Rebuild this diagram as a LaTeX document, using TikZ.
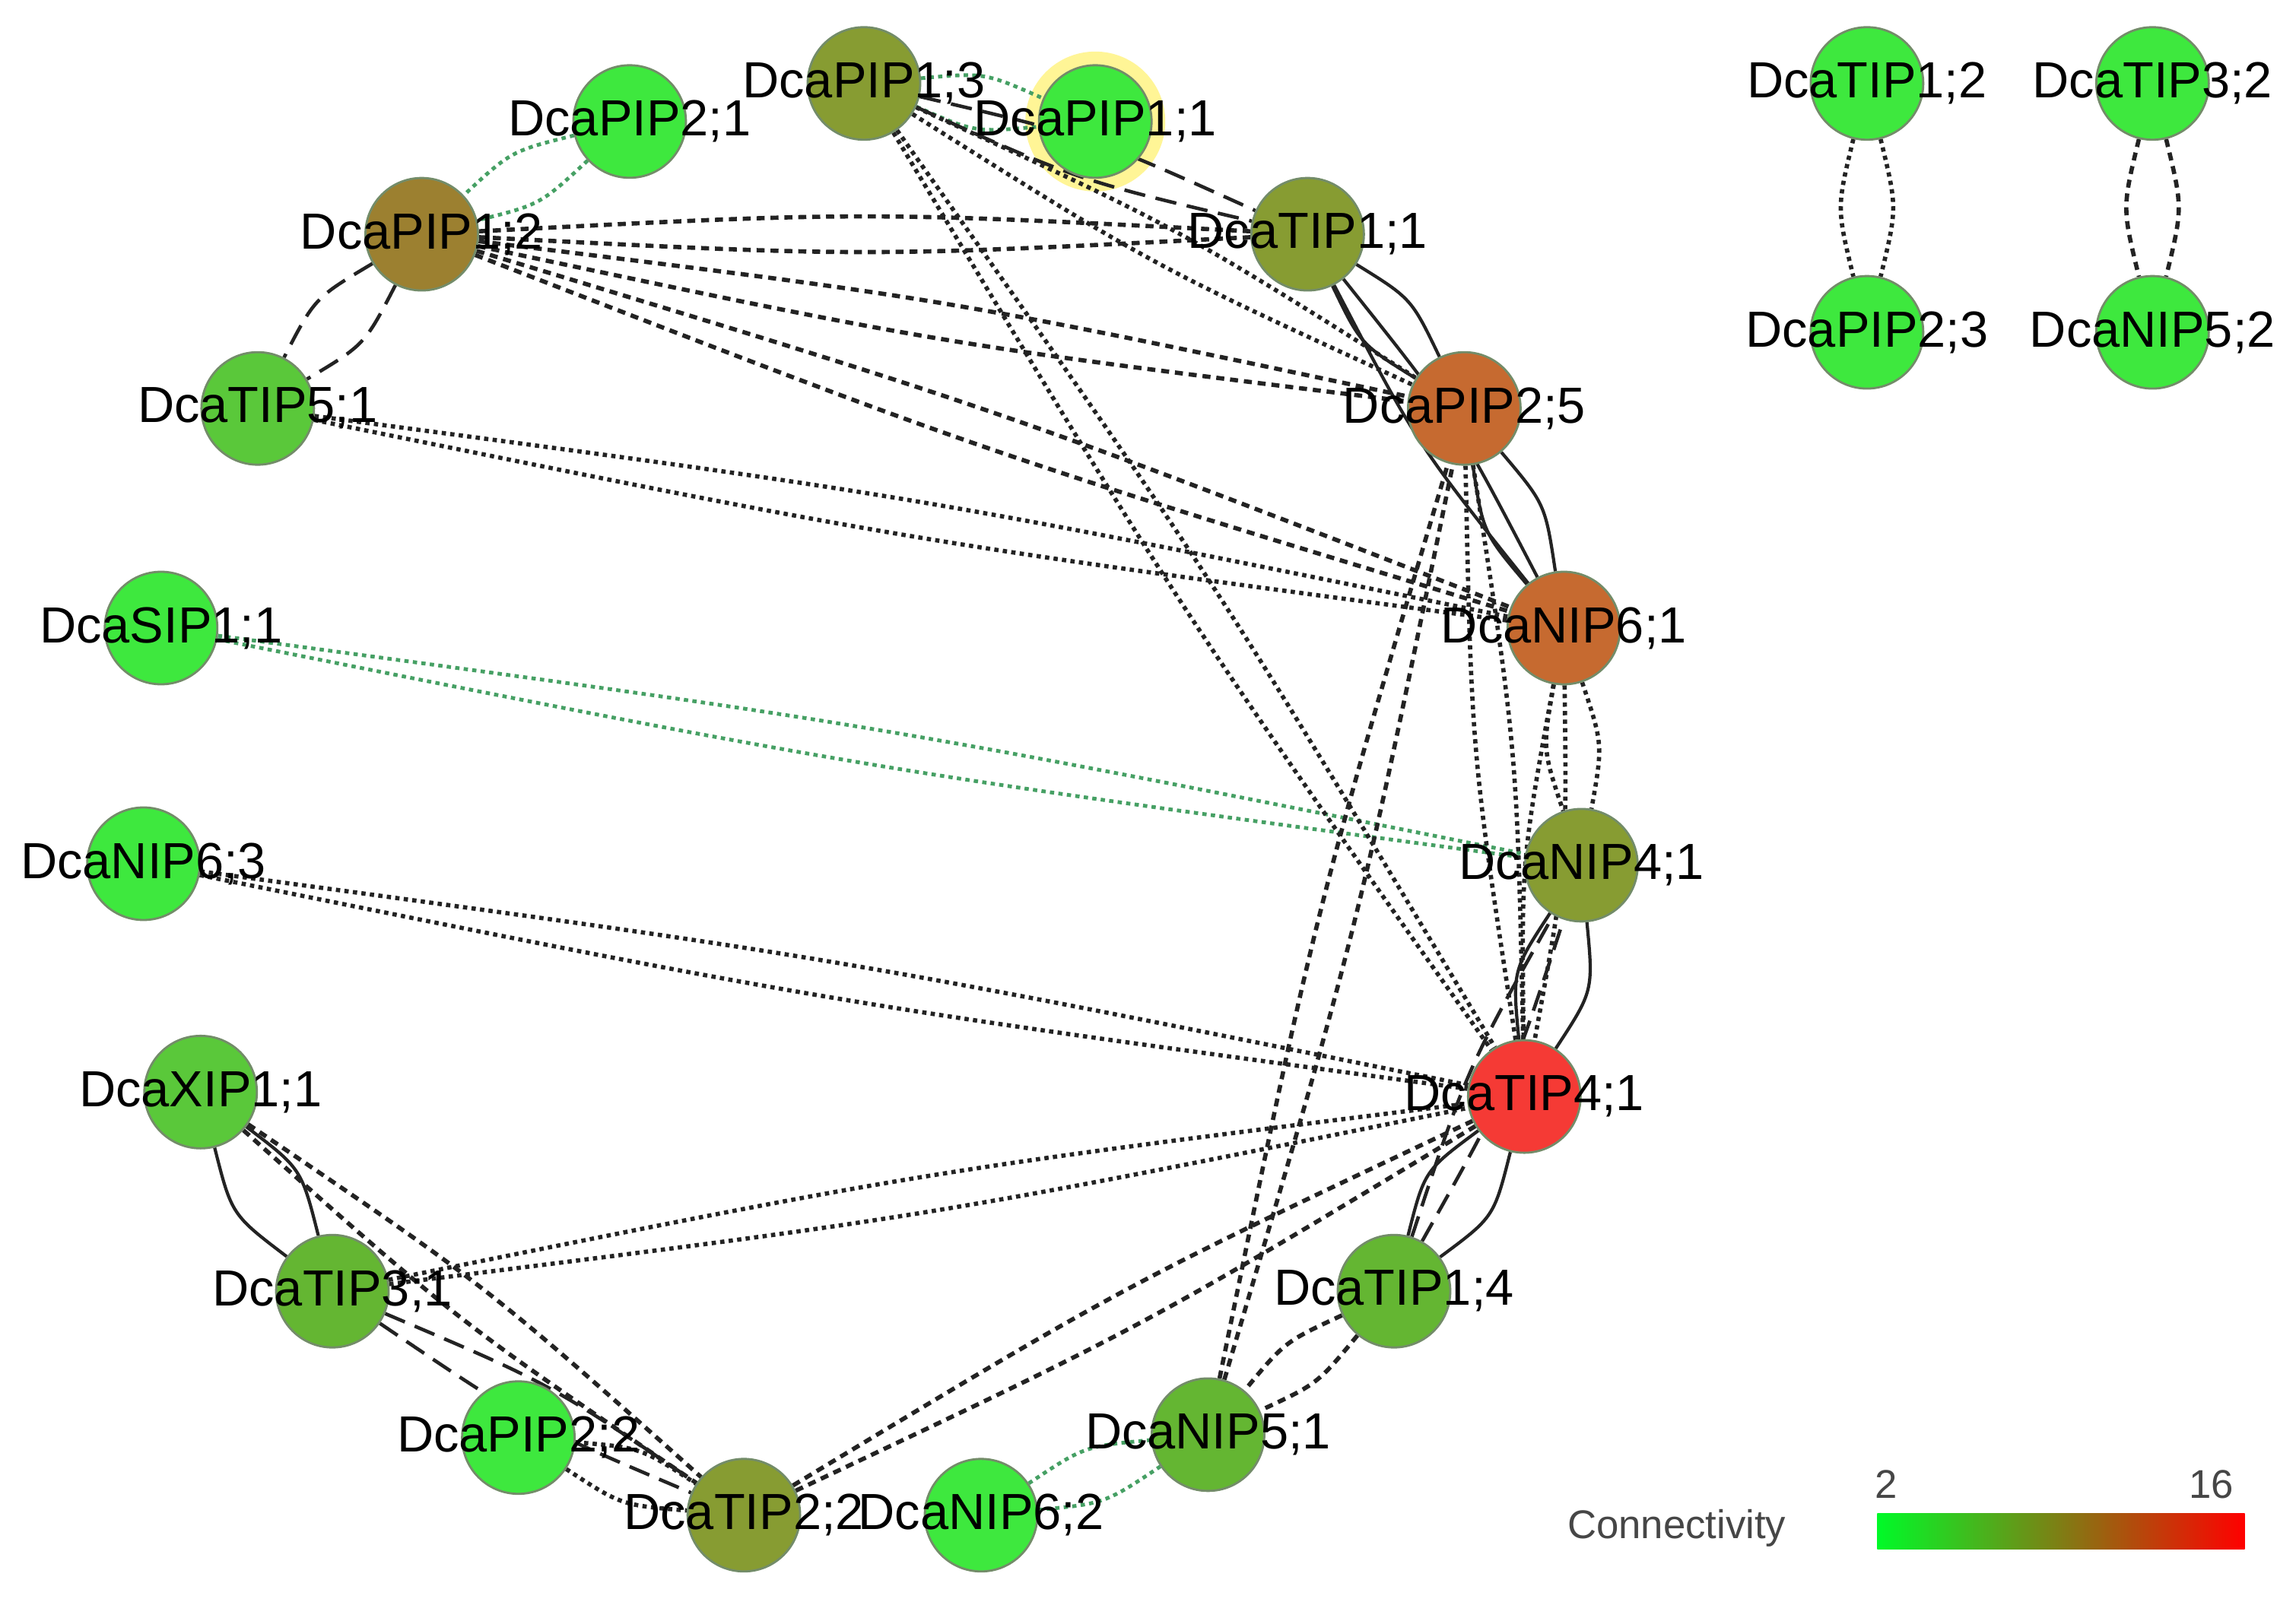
\documentclass[tikz,border=0pt]{standalone}
\usepackage{fontspec}
\setmainfont{Liberation Sans}
\usetikzlibrary{calc}
\pgfdeclarelayer{halo}
\pgfdeclarelayer{edges}
\pgfdeclarelayer{labels}
\pgfsetlayers{halo,edges,main,labels}
\definecolor{cA}{RGB}{62,232,62}
\definecolor{cB}{RGB}{90,200,58}
\definecolor{cC}{RGB}{100,182,50}
\definecolor{cD}{RGB}{135,156,50}
\definecolor{cE}{RGB}{156,128,48}
\definecolor{cF}{RGB}{198,106,48}
\definecolor{cG}{RGB}{245,58,53}
\definecolor{edgec}{RGB}{35,35,35}
\definecolor{gedge}{RGB}{70,160,100}
\definecolor{rimc}{RGB}{115,140,105}
\definecolor{haloc}{RGB}{255,245,150}
\definecolor{legtc}{RGB}{70,70,70}
\definecolor{barL}{RGB}{0,250,40}
\definecolor{barM}{RGB}{125,130,20}
\definecolor{barR}{RGB}{255,0,0}
\tikzset{
  nd/.style={circle, minimum size=1.48cm, inner sep=0pt, draw=rimc, line width=0.8pt},
  lbl/.style={font=\fontsize{19}{19}\selectfont, text=black, inner sep=0pt},
  solidE/.style={draw=edgec, line width=1.2pt},
  ldashE/.style={draw=edgec, line width=1.3pt, dash pattern=on 8pt off 4pt},
  sdashE/.style={draw=edgec, line width=1.6pt, dash pattern=on 3pt off 2.2pt},
  dotE/.style={draw=edgec, line width=1.6pt, dash pattern=on 1.6pt off 1.6pt},
  gdotE/.style={draw=gedge, line width=1.4pt, dash pattern=on 1.6pt off 1.6pt},
  legtxt/.style={font=\fontsize{15}{15}\selectfont, text=legtc, inner sep=0pt}
}
\newcommand\edgepair[4][0.31cm]{%
  \draw[#2] (#3) .. controls ($(#3)!0.5!(#4)!#1!90:(#4)$) .. (#4);
  \draw[#2] (#3) .. controls ($(#3)!0.5!(#4)!#1!-90:(#4)$) .. (#4);}
\begin{document}
\begin{tikzpicture}[x=0.019254cm, y=-0.019254cm]
\useasboundingbox (0,0) rectangle (1568,1094);
\begin{pgfonlayer}{halo}
  \fill[white] (0,0) rectangle (1568,1094);
\end{pgfonlayer}
% nodes
\node[nd, fill=cD] (pip13) at (590,57) {};
\node[nd, fill=cA] (pip11) at (748,83) {};
\node[nd, fill=cA] (pip21) at (430,83) {};
\node[nd, fill=cE] (pip12) at (288,160) {};
\node[nd, fill=cD] (tip11) at (893,160) {};
\node[nd, fill=cB] (tip51) at (176,279) {};
\node[nd, fill=cF] (pip25) at (1000,279) {};
\node[nd, fill=cA] (sip11) at (110,429) {};
\node[nd, fill=cF] (nip61) at (1068,429) {};
\node[nd, fill=cA] (nip63) at (98,590) {};
\node[nd, fill=cD] (nip41) at (1080,591) {};
\node[nd, fill=cB] (xip11) at (137,746) {};
\node[nd, fill=cG] (tip41) at (1041,749) {};
\node[nd, fill=cC] (tip31) at (227,882) {};
\node[nd, fill=cC] (tip14) at (952,882) {};
\node[nd, fill=cA] (pip22) at (354,982) {};
\node[nd, fill=cC] (nip51) at (825,980) {};
\node[nd, fill=cD] (tip22) at (508,1035) {};
\node[nd, fill=cA] (nip62) at (670,1035) {};
\node[nd, fill=cA] (tip12) at (1275,57) {};
\node[nd, fill=cA] (pip23) at (1275,227) {};
\node[nd, fill=cA] (tip32) at (1470,57) {};
\node[nd, fill=cA] (nip52) at (1470,227) {};
\begin{pgfonlayer}{halo}
  \fill[haloc] (pip11) circle[radius=0.92cm];
\end{pgfonlayer}
% edges
\begin{pgfonlayer}{edges}
\edgepair[0.4cm]{gdotE}{pip21}{pip12}
\edgepair[0.4cm]{gdotE}{pip13}{pip11}
\edgepair[0.3cm]{gdotE}{sip11}{nip41}
\edgepair[0.4cm]{gdotE}{nip62}{nip51}
\edgepair[0.45cm]{ldashE}{pip12}{tip51}
\edgepair[0.3cm]{ldashE}{pip13}{tip11}
\edgepair[0.3cm]{ldashE}{tip31}{tip22}
\edgepair[0.3cm]{ldashE}{tip14}{nip41}
\edgepair[0.55cm]{solidE}{xip11}{tip31}
\edgepair[0.45cm]{solidE}{tip11}{pip25}
\edgepair[0.3cm]{solidE}{tip11}{nip61}
\edgepair[0.45cm]{solidE}{pip25}{nip61}
\edgepair[0.55cm]{solidE}{nip41}{tip41}
\edgepair[0.55cm]{solidE}{tip41}{tip14}
\edgepair[0.3cm]{sdashE}{pip12}{tip11}
\edgepair[0.3cm]{sdashE}{pip12}{pip25}
\edgepair[0.3cm]{sdashE}{pip12}{nip61}
\edgepair[0.3cm]{sdashE}{xip11}{tip22}
\edgepair[0.3cm]{sdashE}{tip22}{tip41}
\edgepair[0.3cm]{sdashE}{nip51}{pip25}
\edgepair[0.35cm]{sdashE}{tip14}{nip51}
\edgepair[0.3cm]{dotE}{tip51}{nip61}
\edgepair[0.3cm]{dotE}{nip63}{tip41}
\edgepair[0.3cm]{dotE}{tip31}{tip41}
\edgepair[0.3cm]{dotE}{pip13}{pip25}
\edgepair[0.3cm]{dotE}{pip13}{tip41}
\edgepair[0.3cm]{dotE}{pip25}{tip41}
\edgepair[0.3cm]{dotE}{nip61}{tip41}
\edgepair[0.4cm]{dotE}{nip61}{nip41}
\edgepair[0.4cm]{dotE}{pip22}{tip22}
\edgepair[0.4cm]{dotE}{tip12}{pip23}
\edgepair[0.4cm]{sdashE}{tip32}{nip52}
\end{pgfonlayer}
% labels
\begin{pgfonlayer}{labels}
\node[lbl] (l-pip13) at (pip13) {DcaPIP1;3};
\node[lbl] (l-pip11) at (pip11) {DcaPIP1;1};
\node[lbl] (l-pip21) at (pip21) {DcaPIP2;1};
\node[lbl] (l-pip12) at (pip12) {DcaPIP1;2};
\node[lbl] (l-tip11) at (tip11) {DcaTIP1;1};
\node[lbl] (l-tip51) at (tip51) {DcaTIP5;1};
\node[lbl] (l-pip25) at (pip25) {DcaPIP2;5};
\node[lbl] (l-sip11) at (sip11) {DcaSIP1;1};
\node[lbl] (l-nip61) at (nip61) {DcaNIP6;1};
\node[lbl] (l-nip63) at (nip63) {DcaNIP6;3};
\node[lbl] (l-nip41) at (nip41) {DcaNIP4;1};
\node[lbl] (l-xip11) at (xip11) {DcaXIP1;1};
\node[lbl] (l-tip41) at (tip41) {DcaTIP4;1};
\node[lbl] (l-tip31) at (tip31) {DcaTIP3;1};
\node[lbl] (l-tip14) at (tip14) {DcaTIP1;4};
\node[lbl] (l-pip22) at (pip22) {DcaPIP2;2};
\node[lbl] (l-nip51) at (nip51) {DcaNIP5;1};
\node[lbl] (l-tip22) at (tip22) {DcaTIP2;2};
\node[lbl] (l-nip62) at (nip62) {DcaNIP6;2};
\node[lbl] (l-tip12) at (tip12) {DcaTIP1;2};
\node[lbl] (l-pip23) at (pip23) {DcaPIP2;3};
\node[lbl] (l-tip32) at (tip32) {DcaTIP3;2};
\node[lbl] (l-nip52) at (nip52) {DcaNIP5;2};
\end{pgfonlayer}
% legend
\node[legtxt] (legname) at (1145,1044) {Connectivity};
\node[legtxt] (legmin) at (1288,1014) {2};
\node[legtxt] (legmax) at (1510,1014) {16};
\node[rectangle, inner sep=0pt, minimum width=4.833cm, minimum height=0.462cm,
  left color=barL, middle color=barM, right color=barR] (legbar) at (1407.5,1046) {};
\end{tikzpicture}
\end{document}
